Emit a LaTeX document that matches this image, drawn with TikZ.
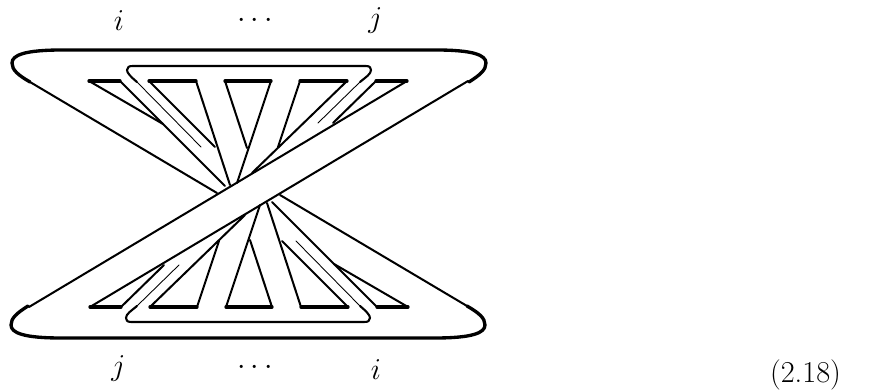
\documentclass[tikz,border=0pt]{standalone}

\tikzset{
  rim/.style={line width=1.9pt},
  loopline/.style={line width=1.2pt},
  bar/.style={line width=1.9pt},
  strand/.style={line width=1.15pt},
  hair/.style={line width=0.5pt},
  lab/.style={inner sep=0pt,anchor=base,font=\fontsize{17.28}{20}\selectfont}
}

\begin{document}
\begin{tikzpicture}[x=0.02cm,y=-0.02cm,line cap=round,line join=round]
  \useasboundingbox (0,0) rectangle (877,391);
  % the lower half is the upper one turned by 180 degrees
  \foreach \ang in {0,180} {
    \begin{scope}[rotate around={\ang:(248.5,194)}]
      \coordinate (L1) at (89,81);
      \coordinate (R1) at (120,81);
      \coordinate (L2) at (149,81);
      \coordinate (R2) at (196,81);
      \coordinate (L3) at (225,81);
      \coordinate (R3) at (271,81);
      \coordinate (L4) at (300,81);
      \coordinate (R4) at (347,81);
      \coordinate (L5) at (376,81);
      \coordinate (R5) at (407,81);
      \coordinate (OL) at (30,82);
      \coordinate (OR) at (469,82);
      \coordinate (IL) at (137,82);
      \coordinate (IR) at (360,82);
      \coordinate (X) at (217,193);
      \coordinate (B) at (29,307);
      \draw[rim] (OL) .. controls (18,75) and (12,70) .. (12,63)
        .. controls (12,55) and (25,50) .. (62,50) -- (436,50)
        .. controls (473,50) and (486,55) .. (486,63)
        .. controls (486,70) and (480,75) .. (OR);
      \draw[loopline] (IL) .. controls (131,77) and (127,73) .. (127,70)
        .. controls (127,67) and (129,66) .. (133,66) -- (366,66)
        .. controls (370,66) and (371,68) .. (371,70)
        .. controls (371,74) and (366,77) .. (IR);
      \draw[hair] (IL) -- (201,147);
      \draw[hair] (IR) -- (318,123);
      \draw[bar] (L1) -- (R1);
      \draw[bar] (L2) -- (R2);
      \draw[bar] (L3) -- (R3);
      \draw[bar] (L4) -- (R4);
      \draw[bar] (L5) -- (R5);
      \draw[strand] (OL) -- (X);
      \draw[strand] (B) -- (R5);
      \draw[strand] (L1) -- (163,124);
      \draw[strand] (R1) -- (225,186);
      \draw[strand] (L2) -- (215,147);
      \draw[strand] (R2) -- (230,185);
      \draw[strand] (L3) -- (247,148);
      \draw[strand] (R3) -- (237,183);
      \draw[strand] (L4) -- (278,147);
      \draw[strand] (R4) -- (252,173);
      \draw[strand] (L5) -- (333,123);
    \end{scope}
  }
  \node[lab] (ti) at (119,31) {$i$};
  \node[lab] (td) at (255,28) {$\cdots$};
  \node[lab] (tj) at (375.5,28) {$j$};
  \node[lab] (bj) at (118.5,376) {$j$};
  \node[lab] (bd) at (255,375) {$\cdots$};
  \node[lab] (bi) at (376,380) {$i$};
  \node[lab] (eq) at (805.5,383) {(2.18)};
\end{tikzpicture}
\end{document}
